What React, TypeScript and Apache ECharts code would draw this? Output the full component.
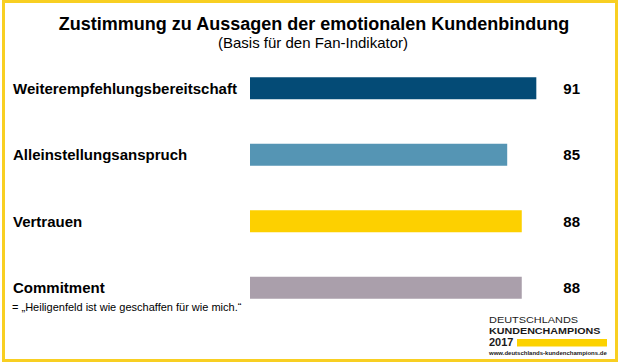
import React, { useEffect, useRef } from "react";
import * as echarts from "echarts";

const categories = [
  "Weiterempfehlungsbereitschaft",
  "Alleinstellungsanspruch",
  "Vertrauen",
  "Commitment",
];
const values = [91, 85, 88, 88];
const barColors = ["#044b76", "#5595b4", "#fdd000", "#aa9fab"];

const titleText = "Zustimmung zu Aussagen der emotionalen Kundenbindung";
const subtitleText = "(Basis für den Fan-Indikator)";
const footnoteText = "= „Heiligenfeld ist wie geschaffen für wie mich.“";
const logoLines = ["DEUTSCHLANDS", "KUNDENCHAMPIONS", "2017", "www.deutschlands-kundenchampions.de"];

const FONT = "'Liberation Sans', Arial, Helvetica, sans-serif";

export default function App() {
  const ref = useRef<HTMLDivElement>(null);

  useEffect(() => {
    if (!ref.current) return;
    const chart = echarts.init(ref.current, undefined, { renderer: "svg" });
    chart.setOption({
      animation: false,
      backgroundColor: "#ffffff",
      grid: {
        left: 250,
        top: 55,
        width: 330,
        height: 266,
        containLabel: false,
        outerBoundsMode: "none",
      },
      xAxis: {
        type: "value",
        min: 32,
        max: 100,
        show: false,
      },
      yAxis: [
        {
          type: "category",
          data: categories,
          inverse: true,
          position: "left",
          axisLine: { show: false },
          axisTick: { show: false },
          splitLine: { show: false },
          axisLabel: {
            align: "left",
            margin: 237,
            fontSize: 15,
            fontWeight: "bold",
            color: "#000000",
            fontFamily: FONT,
            padding: [0, 0, 5, 0],
          },
        },
        {
          type: "category",
          data: values.map((v) => String(v)),
          inverse: true,
          position: "right",
          axisLine: { show: false },
          axisTick: { show: false },
          splitLine: { show: false },
          axisLabel: {
            align: "right",
            margin: 0,
            fontSize: 15,
            fontWeight: "bold",
            color: "#000000",
            fontFamily: FONT,
            padding: [0, 0, 4, 0],
          },
        },
      ],
      series: [
        {
          type: "bar",
          yAxisIndex: 0,
          barWidth: 22,
          data: values.map((v, i) => ({ value: v, itemStyle: { color: barColors[i] } })),
        },
      ],
      graphic: [
        {
          type: "rect",
          shape: { x: 3.5, y: 1.5, width: 613, height: 359 },
          style: { fill: "none", stroke: "#f8cf22", lineWidth: 3 },
          silent: true,
        },
        {
          type: "text",
          x: 314,
          y: 24,
          style: {
            text: titleText,
            fontSize: 18,
            fontWeight: "bold",
            fontFamily: FONT,
            fill: "#000000",
            align: "center",
            verticalAlign: "middle",
          },
        },
        {
          type: "text",
          x: 313,
          y: 42,
          style: {
            text: subtitleText,
            fontSize: 15,
            fontFamily: FONT,
            fill: "#000000",
            align: "center",
            verticalAlign: "middle",
          },
        },
        {
          type: "text",
          x: 12,
          y: 307,
          style: {
            text: footnoteText,
            fontSize: 11,
            fontFamily: FONT,
            fill: "#000000",
            align: "left",
            verticalAlign: "middle",
          },
        },
        {
          type: "text",
          x: 489,
          y: 320,
          scaleX: 1.15,
          style: {
            text: logoLines[0],
            fontSize: 9.5,
            fontFamily: FONT,
            fill: "#1a1a1a",
            align: "left",
            verticalAlign: "middle",
          },
        },
        {
          type: "text",
          x: 489,
          y: 331,
          scaleX: 1.13,
          style: {
            text: logoLines[1],
            fontSize: 9.5,
            fontWeight: "bold",
            fontFamily: FONT,
            fill: "#1a1a1a",
            align: "left",
            verticalAlign: "middle",
          },
        },
        {
          type: "text",
          x: 489,
          y: 342.5,
          scaleX: 1.1,
          style: {
            text: logoLines[2],
            fontSize: 10,
            fontWeight: "bold",
            fontFamily: FONT,
            fill: "#1a1a1a",
            align: "left",
            verticalAlign: "middle",
          },
        },
        {
          type: "rect",
          shape: { x: 517, y: 339, width: 90, height: 7.5 },
          style: { fill: "#fcd200" },
          silent: true,
        },
        {
          type: "text",
          x: 489,
          y: 353,
          style: {
            text: logoLines[3],
            fontSize: 6,
            fontWeight: "bold",
            fontFamily: FONT,
            fill: "#1a1a1a",
            align: "left",
            verticalAlign: "middle",
          },
        },
      ],
    });
    return () => chart.dispose();
  }, []);

  return (
    <div
      ref={ref}
      style={{ position: "fixed", left: 0, top: 0, width: 620, height: 363 }}
    />
  );
}
